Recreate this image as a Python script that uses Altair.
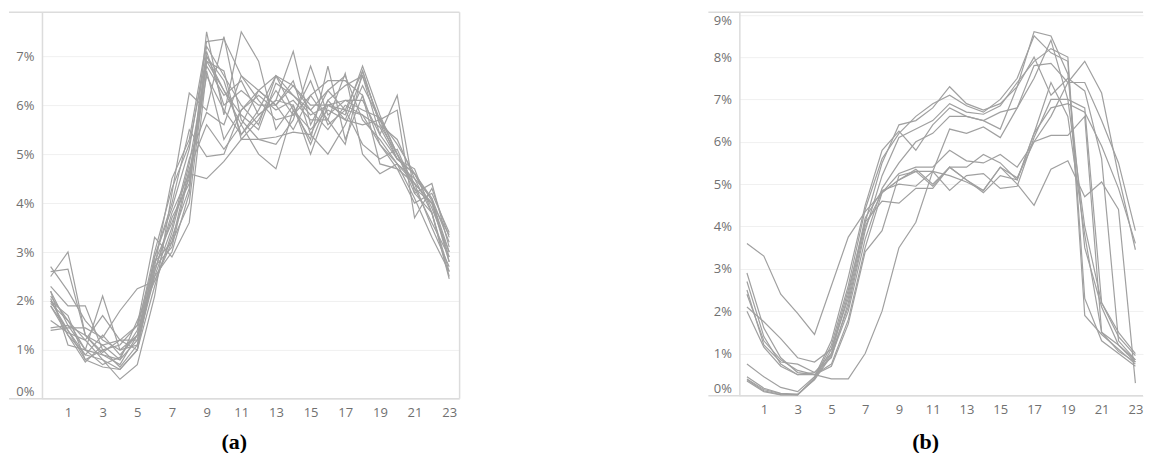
import altair as alt
import pandas as pd

hours = list(range(24))
odd_hours = [1, 3, 5, 7, 9, 11, 13, 15, 17, 19, 21, 23]

# Panel (a): hourly share of daily volume (%), one list per day
panel_a = {
    "a01": [2.70, 2.20, 1.60, 1.20, 1.00, 1.30, 2.90, 3.90, 5.10, 7.20, 6.60, 6.00, 5.60, 6.60, 6.20, 5.80, 6.00, 5.90, 6.70, 5.60, 5.00, 4.40, 4.00, 2.90],
    "a02": [2.50, 3.00, 1.30, 0.90, 0.80, 1.20, 2.80, 3.60, 4.50, 7.00, 6.50, 5.40, 5.90, 6.60, 5.90, 5.50, 5.90, 5.70, 6.60, 5.40, 4.90, 4.60, 3.90, 3.00],
    "a03": [2.20, 1.50, 1.00, 2.10, 1.00, 1.10, 2.50, 3.00, 4.20, 7.50, 5.80, 7.50, 6.90, 5.50, 6.00, 5.00, 6.00, 5.80, 6.80, 5.80, 5.00, 4.20, 3.80, 2.50],
    "a04": [2.00, 1.40, 0.90, 0.80, 0.60, 1.00, 2.30, 3.40, 4.80, 6.80, 6.20, 6.50, 5.80, 6.10, 7.10, 5.60, 6.30, 6.60, 5.70, 5.30, 4.80, 4.50, 4.10, 2.80],
    "a05": [1.60, 1.35, 1.20, 0.80, 0.40, 0.70, 2.10, 4.20, 6.25, 5.90, 7.40, 5.70, 5.30, 5.20, 5.70, 6.80, 5.80, 6.10, 6.10, 5.40, 6.20, 4.20, 4.40, 3.10],
    "a06": [1.45, 1.50, 1.30, 1.10, 1.20, 1.20, 2.60, 3.80, 4.60, 4.50, 4.85, 5.30, 5.30, 5.35, 5.45, 5.40, 5.00, 5.60, 6.40, 5.70, 5.90, 3.70, 4.30, 3.30],
    "a07": [1.40, 1.45, 1.45, 1.25, 1.80, 2.25, 2.40, 3.20, 4.70, 5.60, 5.10, 5.60, 5.00, 4.70, 5.90, 5.30, 6.80, 5.30, 6.20, 4.80, 4.70, 4.00, 4.20, 3.40],
    "a08": [2.10, 1.60, 1.20, 1.70, 1.20, 1.50, 3.30, 2.90, 3.60, 6.70, 5.30, 5.90, 6.20, 5.90, 6.10, 5.70, 5.70, 6.65, 5.00, 4.60, 4.80, 4.10, 3.30, 2.60],
    "a09": [1.90, 1.40, 0.80, 0.65, 0.60, 1.00, 2.90, 4.00, 5.50, 4.95, 5.00, 5.90, 6.30, 6.00, 5.50, 6.20, 6.50, 6.50, 6.20, 5.20, 4.80, 4.40, 3.50, 2.70],
    "a10": [2.00, 1.70, 0.80, 1.00, 1.10, 1.50, 2.80, 3.20, 4.00, 6.90, 6.70, 5.30, 5.70, 6.30, 5.80, 6.50, 5.60, 5.90, 5.20, 4.90, 5.10, 4.30, 3.60, 2.90],
    "a11": [2.30, 1.90, 1.90, 1.00, 0.65, 1.10, 2.60, 3.70, 4.40, 7.10, 6.00, 6.30, 6.00, 6.00, 6.50, 5.40, 6.10, 5.70, 5.60, 5.70, 5.20, 4.60, 4.10, 3.20],
    "a12": [2.60, 2.65, 1.30, 0.95, 1.20, 1.00, 2.70, 4.50, 5.30, 7.30, 7.35, 6.60, 6.10, 5.70, 5.80, 6.20, 5.70, 5.20, 6.70, 5.60, 5.30, 4.50, 3.80, 2.60],
    "a13": [1.90, 1.30, 0.75, 1.10, 0.80, 1.60, 2.40, 3.30, 4.30, 6.90, 6.30, 5.80, 5.50, 6.45, 6.20, 5.90, 6.30, 5.90, 5.80, 5.55, 4.90, 4.60, 4.05, 3.00],
    "a14": [2.05, 1.30, 0.90, 1.30, 0.90, 1.30, 2.50, 3.50, 4.90, 5.85, 5.60, 6.60, 6.30, 6.60, 6.40, 6.00, 6.00, 6.10, 5.90, 5.75, 5.00, 4.30, 4.00, 3.35],
    "a15": [2.20, 1.10, 1.00, 0.70, 0.85, 1.40, 3.00, 4.30, 5.20, 7.00, 6.30, 5.60, 6.30, 6.00, 6.40, 5.90, 5.50, 6.00, 5.80, 5.20, 4.70, 4.40, 4.00, 2.80],
    "a16": [1.95, 1.60, 1.00, 0.90, 0.70, 1.30, 2.70, 3.10, 4.60, 6.60, 5.90, 5.40, 5.80, 6.10, 6.00, 5.20, 6.10, 6.40, 6.60, 5.70, 4.90, 4.70, 3.80, 2.45],
}

# Panel (b)
panel_b = {
    "b01": [0.40, 0.15, 0.05, 0.02, 0.40, 1.10, 2.30, 4.10, 5.50, 6.40, 6.50, 6.80, 7.30, 6.90, 6.75, 6.90, 7.30, 8.60, 8.50, 7.60, 3.50, 2.10, 1.20, 0.80],
    "b02": [0.38, 0.12, 0.03, 0.02, 0.42, 1.20, 2.60, 4.40, 5.60, 6.20, 6.60, 6.90, 7.10, 6.85, 6.70, 7.00, 7.50, 8.50, 8.10, 7.90, 1.90, 1.45, 1.10, 0.75],
    "b03": [0.35, 0.10, 0.02, 0.03, 0.40, 1.00, 2.10, 3.90, 5.20, 6.10, 6.30, 6.50, 6.90, 6.70, 6.65, 6.85, 7.40, 7.90, 8.20, 8.00, 2.30, 1.30, 1.00, 0.70],
    "b04": [0.45, 0.18, 0.06, 0.04, 0.38, 0.95, 2.00, 3.70, 4.90, 5.50, 6.00, 6.20, 6.60, 6.60, 6.50, 6.70, 6.80, 7.50, 8.40, 7.00, 4.00, 2.20, 1.40, 0.95],
    "b05": [0.75, 0.45, 0.20, 0.10, 0.45, 1.30, 2.80, 4.50, 5.80, 6.25, 5.80, 6.40, 6.80, 6.60, 6.50, 6.30, 7.30, 8.00, 7.10, 7.50, 7.20, 5.60, 1.30, 0.85],
    "b06": [2.90, 1.60, 0.90, 0.55, 0.50, 0.75, 1.80, 3.50, 4.80, 5.25, 5.40, 5.40, 5.80, 5.55, 5.50, 5.70, 5.40, 6.00, 6.60, 7.40, 7.40, 6.50, 5.50, 3.90],
    "b07": [2.70, 1.40, 0.75, 0.50, 0.55, 0.90, 2.20, 4.00, 4.80, 5.10, 5.30, 4.95, 5.40, 5.10, 4.80, 5.20, 5.10, 6.20, 6.80, 6.90, 6.70, 5.90, 4.90, 3.60],
    "b08": [2.50, 1.20, 0.80, 0.75, 0.55, 1.00, 2.40, 4.20, 4.85, 5.00, 4.95, 5.30, 4.85, 5.20, 5.25, 4.90, 4.95, 6.10, 7.00, 7.00, 6.80, 2.20, 1.50, 1.00],
    "b09": [2.10, 1.75, 1.35, 0.90, 0.80, 1.10, 2.50, 4.10, 4.60, 4.55, 4.90, 4.90, 5.40, 5.40, 5.70, 5.50, 5.10, 6.20, 7.40, 6.60, 3.80, 1.50, 1.20, 0.85],
    "b10": [2.00, 1.15, 0.70, 0.50, 0.50, 0.70, 1.70, 3.40, 3.90, 5.20, 5.30, 5.30, 5.20, 5.05, 4.85, 5.40, 5.15, 6.00, 6.15, 6.15, 6.60, 1.50, 1.05, 0.80],
    "b11": [2.40, 1.30, 0.85, 0.60, 0.50, 0.40, 0.40, 1.00, 2.00, 3.50, 4.10, 5.30, 6.30, 6.20, 6.35, 6.10, 6.80, 7.80, 7.85, 7.40, 7.90, 7.15, 5.20, 3.45],
    "b12": [3.60, 3.30, 2.40, 1.95, 1.45, 2.60, 3.75, 4.35, 4.80, 5.10, 5.35, 5.00, 5.40, 5.10, 4.85, 5.40, 5.00, 4.50, 5.35, 5.55, 4.70, 5.05, 4.40, 0.30],
}

LINE_COLOR = "#a0a0a0"
FRAME_COLOR = "#dcdcdc"


def long_df(series):
    rows = []
    for name, vals in series.items():
        for h, v in zip(hours, vals):
            rows.append({"series": name, "hour": h, "value": v})
    return pd.DataFrame(rows)


def panel(series, xdom, ydom, yticks, w, h, caption, ext, toff, right_border):
    df = long_df(series)
    lines = alt.Chart(df).mark_line(color=LINE_COLOR, strokeWidth=1.2).encode(
        x=alt.X(
            "hour:Q",
            scale=alt.Scale(domain=xdom, nice=False, zero=False),
            axis=alt.Axis(values=odd_hours, title=None, grid=False, domain=False,
                          ticks=False, labelPadding=8),
        ),
        y=alt.Y(
            "value:Q",
            scale=alt.Scale(domain=ydom, nice=False),
            axis=alt.Axis(values=yticks, title=None, labelExpr="datum.value + '%'",
                          domain=True, domainColor=FRAME_COLOR, domainWidth=1.5,
                          ticks=False, labelPadding=8, grid=True,
                          gridColor="#f0f0f0", gridWidth=1, labelFlush=8),
        ),
        detail="series:N",
    )
    one = pd.DataFrame({"k": [0]})
    layers = [
        alt.Chart(one).mark_rule(color=FRAME_COLOR, strokeWidth=1.5).encode(
            x=alt.value(-ext), x2=alt.value(w), y=alt.value(0)),
        alt.Chart(one).mark_rule(color=FRAME_COLOR, strokeWidth=1.5).encode(
            x=alt.value(-ext), x2=alt.value(w), y=alt.value(h)),
    ]
    if right_border:
        layers.append(alt.Chart(one).mark_rule(color=FRAME_COLOR, strokeWidth=1.5).encode(
            x=alt.value(w), y=alt.value(0), y2=alt.value(h)))
    layers.append(lines)
    return alt.layer(*layers).properties(
        width=w, height=h,
        title=alt.TitleParams(text=caption, orient="bottom", anchor="middle",
                              frame="bounds", font="Liberation Serif", fontSize=22,
                              fontWeight="bold", color="#000000", offset=toff),
    )


pa = panel(panel_a, [-0.5, 23.6], [0, 7.9], [0, 1, 2, 3, 4, 5, 6, 7], 418, 387, "(a)", 33, 12, True)
pb = panel(panel_b, [-0.45, 23.45], [0, 9.06], [0, 1, 2, 3, 4, 5, 6, 7, 8, 9], 404, 384, "(b)", 31, 15, False)

chart = alt.hconcat(pa, pb, spacing=247).properties(
    padding={"left": 0, "top": 3, "right": 0, "bottom": 0}
).configure_view(
    strokeWidth=0
).configure_axis(
    labelFont="Open Sans", labelFontSize=13, labelColor="#707070"
)

chart.save("out.html", embed_options={"renderer": "svg", "actions": False})
